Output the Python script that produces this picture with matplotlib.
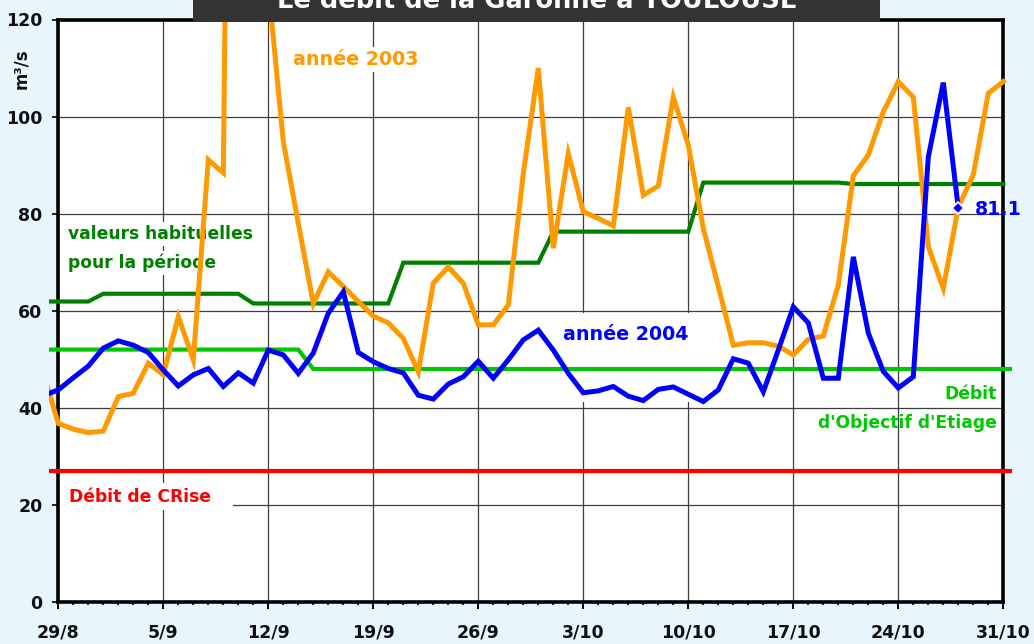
import numpy as np
import matplotlib
matplotlib.use("Agg")
import matplotlib.pyplot as plt
from matplotlib.patches import Rectangle

plt.rcParams['font.family'] = ['DejaVu Sans']
plt.rcParams['font.weight'] = 'bold'

# ---------------- data ----------------
# day index 0 = 29/8 ; first value of each series is the day before (28/8)
days = np.arange(-1, 65)
tick_days = [0, 7, 14, 21, 28, 35, 42, 49, 56, 63]
tick_labels = ["29/8", "5/9", "12/9", "19/9", "26/9", "3/10", "10/10", "17/10", "24/10", "31/10"]

annee_2003 = [47.1,
              36.8, 35.6, 34.9, 35.2, 42.3, 43.0, 49.2, 46.8, 58.8, 49.9,
              91.1, 88.4, 370.0, 250.0, 127.0, 94.8, 78.0, 61.5, 68.0, 65.0,
              61.9, 58.9, 57.5, 54.3, 47.4, 65.7, 69.0, 65.7, 57.1, 57.1,
              61.2, 88.3, 110.0, 72.9, 92.4, 80.4, 79.0, 77.5, 101.9, 83.8,
              85.7, 104.0, 94.1, 77.0, 65.0, 52.9, 53.4, 53.4, 52.7, 50.9,
              54.1, 54.8, 65.3, 87.8, 92.1, 101.0, 107.2, 104.0, 73.2, 64.6,
              81.4, 88.0, 104.8, 107.2, np.nan]

annee_2004 = [42.5,
              43.7, 46.2, 48.6, 52.3, 53.8, 52.9, 51.4, 47.8, 44.5, 46.8,
              48.1, 44.4, 47.2, 45.1, 51.9, 50.9, 47.1, 51.3, 59.5, 63.9,
              51.4, 49.5, 48.1, 47.2, 42.6, 41.8, 44.9, 46.4, 49.6, 46.1,
              49.9, 54.0, 56.0, 51.9, 47.1, 43.1, 43.5, 44.4, 42.4, 41.5,
              43.8, 44.3, 42.8, 41.3, 43.7, 50.1, 49.2, 43.3, 51.9, 60.8,
              57.5, 46.1, 46.1, 71.1, 55.4, 47.5, 44.1, 46.4, 91.7, 107.0,
              81.1, np.nan, np.nan, np.nan, np.nan]

valeurs_habituelles = ([61.9] * 4 + [63.5] * 10 + [61.5] * 10 + [69.9] * 10
                       + [76.3] * 10 + [86.4] * 10 + [86.1] * 11 + [np.nan])
debit_objectif_etiage = [52.0] * 18 + [48.0] * 48
debit_crise = [27.0] * 66

# ---------------- figure ----------------
W, H = 1034, 644
fig = plt.figure(figsize=(W / 100, H / 100), dpi=100, facecolor='#E9F5FD')


def fx(px):
    return px / W


def fy(py):
    return 1 - py / H


ax = fig.add_axes([fx(58.3), fy(602), (1003.3 - 58.3) / W, (602 - 19.5) / H])
ax.set_facecolor('white')
ax.set_xlim(0, 63)
ax.set_ylim(0, 120)

ax.set_xticks(tick_days)
ax.set_xticklabels(tick_labels)
ax.set_xticks(np.arange(0, 64), minor=True)
ax.set_yticks(np.arange(0, 121, 20))
ax.grid(which='major', color='#3c3c3c', linewidth=0.9)
ax.set_axisbelow(True)

for s in ax.spines.values():
    s.set_linewidth(2.6)
    s.set_color('black')

ax.tick_params(axis='x', which='major', length=4.8, width=1.4, pad=11,
               labelsize=12.5, colors='black')
ax.tick_params(axis='x', which='minor', length=2.4, width=1.2)
ax.tick_params(axis='y', which='major', length=4.3, width=1.2, pad=7,
               labelsize=12.5)
for lab in ax.get_xticklabels() + ax.get_yticklabels():
    lab.set_fontweight('bold')
    lab.set_color('#111111')

clip = Rectangle((-0.6, -5), 64.2, 125, transform=ax.transData)

series = [
    (debit_crise, '#FF0000', 3.0),
    (debit_objectif_etiage, '#00C800', 3.0),
    (valeurs_habituelles, '#008000', 3.0),
    (annee_2003, '#FF9900', 3.6),
    (annee_2004, '#0000FF', 3.6),
]
for vals, col, lw in series:
    ln, = ax.plot(days, vals, color=col, lw=lw, zorder=3,
                  solid_joinstyle='miter', clip_on=True)
    ln.set_clip_path(clip)

# last value of 2004
last_i = int(np.where(~np.isnan(annee_2004))[0][-1])
ax.plot(days[last_i], annee_2004[last_i], marker='D', ms=6.5, mfc='#0000FF',
        mec='white', mew=1.3, zorder=4, clip_on=False)
ax.text(fx(975), fy(215), f"{annee_2004[last_i]:.1f}", transform=fig.transFigure,
        color='#0000FF', fontsize=13.7, fontweight='bold', va='baseline',
        ha='left', zorder=5)

# white boxes behind some labels
ax.add_patch(Rectangle((fx(58), fy(510)), fx(233) - fx(58), (510 - 483) / H,
                       transform=fig.transFigure, facecolor='white',
                       edgecolor='none', zorder=2.2))
ax.add_patch(Rectangle((fx(555), fy(402)), fx(695) - fx(555), (402 - 313) / H,
                       transform=fig.transFigure, facecolor='white',
                       edgecolor='none', zorder=2.2))

wb = dict(facecolor='white', edgecolor='none', pad=2)
ax.text(fx(293), fy(65), "année 2003", transform=fig.transFigure,
        color='#FF9900', fontsize=13.7, fontweight='bold', va='baseline',
        bbox=wb, zorder=2.5)
ax.text(fx(563), fy(340), "année 2004", transform=fig.transFigure,
        color='#0000FF', fontsize=13.7, fontweight='bold', va='baseline',
        zorder=2.5)
ax.text(fx(68), fy(239), "valeurs habituelles", transform=fig.transFigure,
        color='#008000', fontsize=12.3, fontweight='bold', va='baseline',
        bbox=wb, zorder=2.5)
ax.text(fx(68), fy(268), "pour la période", transform=fig.transFigure,
        color='#008000', fontsize=12.3, fontweight='bold', va='baseline',
        bbox=wb, zorder=2.5)
ax.text(fx(997), fy(399), "Débit", transform=fig.transFigure,
        color='#00C800', fontsize=12.3, fontweight='bold', va='baseline',
        ha='right', zorder=5)
ax.text(fx(997), fy(428), "d'Objectif d'Etiage", transform=fig.transFigure,
        color='#00C800', fontsize=12.3, fontweight='bold', va='baseline',
        ha='right', zorder=5)
ax.text(fx(69), fy(502), "Débit de CRise", transform=fig.transFigure,
        color='#FF0000', fontsize=12.3, fontweight='bold', va='baseline',
        zorder=2.5)

# unit label
fig.text(fx(21.5), fy(69), "m³/s", rotation=90, ha='center', va='center',
         fontsize=12, fontweight='bold', color='#111111')

# title banner (cut at top)
fig.patches.append(Rectangle((fx(193), fy(21.5)), fx(880) - fx(193), 21.5 / H + 0.02,
                             transform=fig.transFigure, facecolor='#333333',
                             edgecolor='none', zorder=5))
fig.text(fx(537), fy(8.5), "Le débit de la Garonne à TOULOUSE", ha='center',
         va='baseline', color='white', fontsize=18.5, fontweight='bold', zorder=6)

fig.savefig("out.png", dpi=100, facecolor=fig.get_facecolor())
